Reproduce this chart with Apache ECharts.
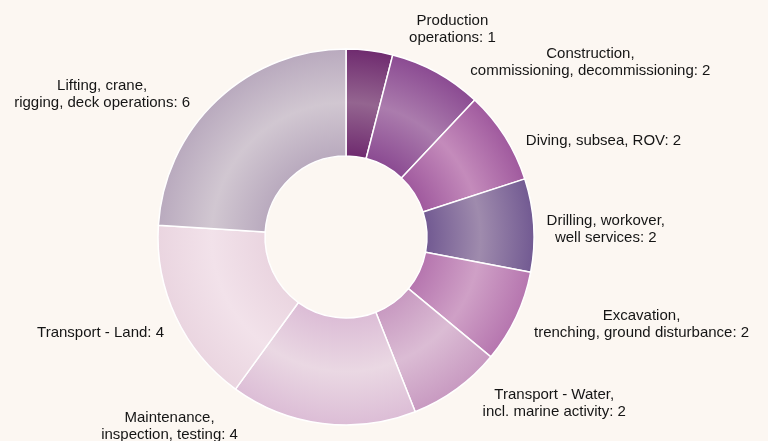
<!DOCTYPE html>
<html>
<head>
<meta charset="utf-8">
<script src="https://cdn.jsdelivr.net/npm/echarts@6/dist/echarts.min.js"></script>
<style>
  html, body { margin: 0; padding: 0; background: #fcf7f2; }
  #chart { width: 768px; height: 441px; }
</style>
</head>
<body>
<div id="chart"></div>
<script>
// Incident categories, clockwise from 12 o'clock
const categories = [
    'Production\noperations',
    'Construction,\ncommissioning, decommissioning',
    'Diving, subsea, ROV',
    'Drilling, workover,\nwell services',
    'Excavation,\ntrenching, ground disturbance',
    'Transport - Water,\nincl. marine activity',
    'Maintenance,\ninspection, testing',
    'Transport - Land',
    'Lifting, crane,\nrigging, deck operations'
];
const counts = [1, 2, 2, 2, 2, 2, 4, 4, 6];

// edge colour / mid-ring highlight per slice
const edgeColors = ['#6f2b6f', '#8b4b92', '#a05a9e', '#725a92', '#b676af', '#c89ac1', '#dcbdd6', '#ead5e0', '#b9aabe'];
const midColors  = ['#946590', '#ab7cad', '#c48bbb', '#9f8bad', '#cfa0c6', '#dbbcd4', '#ead8e3', '#f2e2ea', '#d1c7d1'];

// small hand tweaks so labels sit where the original put them
const labelNudge = [[21, -9], [11, 1], [-6, 11], [-16, 5], [-10, 2], [2, 5], [-66, -9], [16, 11], [-2, 3]];

const cx = 346, cy = 237, rIn = 81, rOut = 188;

function ringGradient(i) {
    const inner = rIn / rOut;
    return {
        type: 'radial', x: cx, y: cy, r: rOut, global: true,
        colorStops: [
            { offset: 0, color: edgeColors[i] },
            { offset: inner, color: edgeColors[i] },
            { offset: (inner + 1) / 2, color: midColors[i] },
            { offset: 1, color: edgeColors[i] }
        ]
    };
}

const chart = echarts.init(document.getElementById('chart'));
chart.setOption({
    backgroundColor: '#fcf7f2',
    animation: false,
    series: [{
        type: 'pie',
        center: [cx, cy],
        radius: [rIn, rOut],
        startAngle: 90,
        clockwise: true,
        avoidLabelOverlap: false,
        data: categories.map((name, i) => ({
            name: name,
            value: counts[i],
            itemStyle: { color: ringGradient(i) }
        })),
        itemStyle: { borderColor: '#ffffff', borderWidth: 1.5 },
        label: {
            show: true,
            position: 'outside',
            formatter: '{b}: {c}',
            color: '#151515',
            fontSize: 15,
            lineHeight: 17,
            fontFamily: '"Liberation Sans", Arial, sans-serif'
        },
        labelLine: { show: false, length: 12, length2: 12 },
        labelLayout: function (params) {
            const r = params.labelRect;
            const n = labelNudge[params.dataIndex];
            return {
                x: r.x + r.width / 2 + n[0],
                y: r.y + r.height / 2 + n[1],
                align: 'center',
                verticalAlign: 'middle'
            };
        }
    }]
});
</script>
</body>
</html>
